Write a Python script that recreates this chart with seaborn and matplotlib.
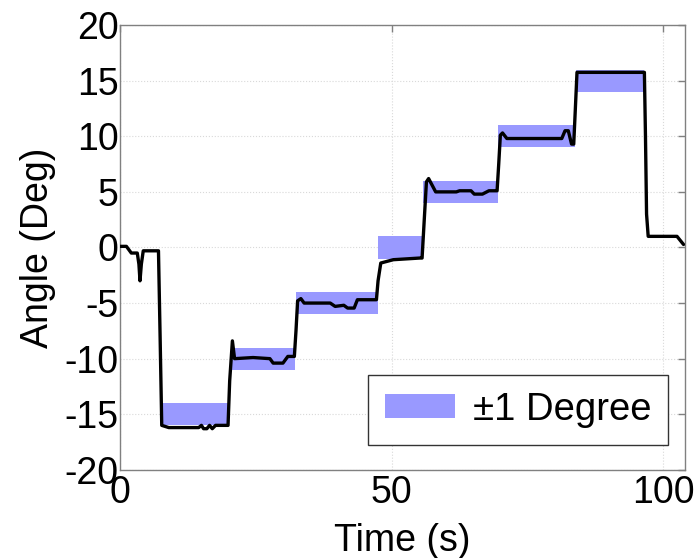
import numpy as np
import pandas as pd
import seaborn as sns
import matplotlib.pyplot as plt

time_s = [0, 1.2, 2.1, 3.2, 3.5, 3.7, 3.95, 4.3, 7.1, 7.4, 7.7, 9.0, 12.0, 14.5,
          15.0, 15.4, 16.0, 16.5, 17.0, 17.6, 19.9, 20.2, 20.7, 21.1, 24.5,
          27.6, 28.2, 30.0, 30.9, 32.1, 32.4, 32.7, 33.3, 33.9, 38.7, 39.6,
          41.2, 41.9, 43.1, 43.7, 47.2, 47.5, 48.0, 50.3, 55.2, 55.6, 56.0,
          56.4, 56.8, 58.1, 61.9, 62.5, 64.6, 65.2, 66.7, 67.9, 69.1, 69.4,
          69.7, 70.0, 70.4, 71.2, 81.3, 81.9, 82.5, 83.1, 83.5, 83.8, 84.1,
          96.5, 96.7, 96.9, 97.2, 102.5, 103.7]
angle_deg = [0.1, 0.1, -0.5, -0.5, -1.5, -3.0, -1.5, -0.3, -0.3, -8.0, -16.0,
             -16.2, -16.2, -16.2, -16.0, -16.3, -16.3, -16.0, -16.3, -16.0,
             -16.0, -12.0, -8.4, -10.0, -9.9, -10.0, -10.4, -10.4, -9.8, -9.8,
             -7.5, -4.8, -4.6, -5.0, -5.0, -5.3, -5.2, -5.45, -5.45, -4.7,
             -4.7, -3.0, -1.4, -1.1, -0.95, -0.95, 2.5, 5.9, 6.2, 5.0, 5.0,
             5.1, 5.1, 4.8, 4.8, 5.1, 5.1, 5.1, 7.5, 10.1, 10.3, 9.8, 9.8,
             10.5, 10.5, 9.3, 9.3, 12.5, 15.75, 15.75, 10.0, 3.0, 1.0, 1.0, 0.27]

# +/-1 degree target bands
band_target = [-15, -10, -5, 0, 5, 10, 15]
band_start = [7.5, 20.6, 32.4, 47.5, 55.8, 69.6, 83.9]
band_end = [20.1, 32.2, 47.4, 55.7, 69.5, 83.7, 96.4]

sns.set_style("white")
plt.rcParams['font.family'] = ['Liberation Sans', 'DejaVu Sans']
plt.rcParams['axes.unicode_minus'] = False
plt.rcParams['text.color'] = 'black'
plt.rcParams['axes.labelcolor'] = 'black'
plt.rcParams['xtick.labelcolor'] = 'black'
plt.rcParams['ytick.labelcolor'] = 'black'

fig = plt.figure(figsize=(6.97, 5.58), dpi=100)
ax = fig.add_axes([0.172, 0.158, 0.811, 0.797])

band_color = '#9999ff'
for i, (tgt, s, e) in enumerate(zip(band_target, band_start, band_end)):
    ax.fill_between([s, e], tgt - 1, tgt + 1, color=band_color, linewidth=0,
                    label='±1 Degree' if i == 0 else None, zorder=2)

df = pd.DataFrame({'Time': time_s, 'Angle': angle_deg})
sns.lineplot(data=df, x='Time', y='Angle', color='black', linewidth=2.4,
             estimator=None, sort=False, ax=ax, zorder=3)

ax.set_xlim(0, 104)
ax.set_ylim(-20, 20)
ax.set_xticks([0, 50, 100])
ax.set_yticks(np.arange(-20, 21, 5))
ax.grid(True, color='#d9d9d9', linestyle=':', linewidth=0.8, zorder=0)
ax.set_axisbelow(True)

for sp in ax.spines.values():
    sp.set_color('#808080')
    sp.set_linewidth(1.0)
ax.tick_params(direction='in', length=5, width=1, color='#808080',
               top=True, right=True, labelsize=27, pad=1)
ax.tick_params(axis='x', pad=4)

ax.set_xlabel('Time (s)', fontsize=27, labelpad=8)
ax.set_ylabel('Angle (Deg)', fontsize=27, labelpad=6)

leg = ax.legend(loc='lower right', fontsize=27.5, frameon=True, fancybox=False,
                framealpha=1, edgecolor='#333333', handlelength=1.83,
                handleheight=0.6, handletextpad=0.45, borderpad=0.45,
                borderaxespad=0, bbox_to_anchor=(0.970, 0.056))
leg.get_frame().set_linewidth(1.0)

fig.savefig('out.png', dpi=100)
